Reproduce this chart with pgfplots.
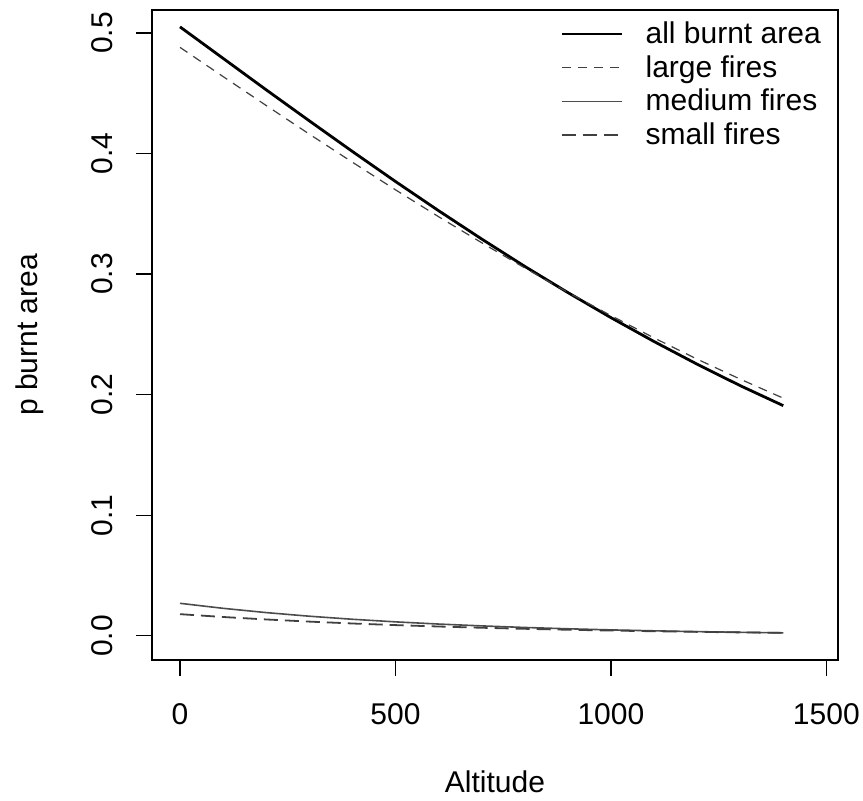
\documentclass[border=0pt]{standalone}
\usepackage{fontspec}
\setmainfont{Liberation Sans}
\usepackage{pgfplots}
\pgfplotsset{compat=1.18}

\begin{document}
\begin{tikzpicture}
\path[use as bounding box] (-76pt,-70.5pt) rectangle (355.5pt,330pt);
\begin{axis}[
  scale only axis,
  width=343pt, height=325pt,
  at={(0,0)}, anchor=south west,
  xmin=-65, xmax=1527,
  ymin=-0.020, ymax=0.519,
  xtick={0,500,1000,1500},
  ytick={0,0.1,0.2,0.3,0.4,0.5},
  tick align=outside,
  xtick pos=left, ytick pos=left,
  major tick length=8pt,
  tick style={black, line width=0.6pt},
  axis line style={line width=0.6pt},
  /pgf/number format/assume math mode=true,
  /pgf/number format/1000 sep={},
  font=\fontsize{15pt}{17pt}\selectfont,
  yticklabel style={/pgf/number format/fixed, /pgf/number format/fixed zerofill, /pgf/number format/precision=1, rotate=90, anchor=south, yshift=8pt},
  xticklabel style={yshift=-10pt},
  scaled y ticks=false,
  xlabel={Altitude},
  ylabel={p burnt area},
  xlabel style={at={(axis description cs:0.5,-0.188)}, anchor=center},
  ylabel style={at={(axis description cs:-0.178,0.5)}, anchor=center},
  legend style={draw=none, fill=none, at={(rel axis cs:0.99,0.995)}, anchor=north east,
    row sep=0.5pt, font=\fontsize{15pt}{17pt}\selectfont,
    /tikz/every odd column/.append style={column sep=9pt}},
  legend cell align=left,
  legend image code/.code={\draw[#1] (0pt,0pt) -- (30pt,0pt);},
]
\addplot[black, line width=1.4pt] coordinates {
(0,0.5050) (100,0.4789) (200,0.4528) (300,0.4271) (400,0.4017) (500,0.3768)
(600,0.3526) (700,0.3291) (800,0.3064) (900,0.2847) (1000,0.2639) (1100,0.2441)
(1200,0.2253) (1300,0.2075) (1400,0.1909)};
\addlegendentry{all burnt area}
\addplot[black!75, line width=0.6pt, dash pattern=on 4.5pt off 3.5pt] coordinates {
(0,0.4880) (100,0.4638) (200,0.4398) (300,0.4161) (400,0.3928) (500,0.3699)
(600,0.3476) (700,0.3260) (800,0.3051) (900,0.2849) (1000,0.2656) (1100,0.2471)
(1200,0.2295) (1300,0.2129) (1400,0.1971)};
\addlegendentry{large fires}
\addplot[black!70, line width=0.8pt] coordinates {
(0,0.0270) (100,0.02284) (200,0.0193) (300,0.0163) (400,0.01377) (500,0.01162)
(600,0.00980) (700,0.00827) (800,0.00697) (900,0.00588) (1000,0.00496) (1100,0.00418)
(1200,0.00352) (1300,0.00297) (1400,0.0025)};
\addlegendentry{medium fires}
\addplot[black!75, line width=0.9pt, dash pattern=on 7pt off 3.5pt] coordinates {
(0,0.0180) (100,0.01565) (200,0.01361) (300,0.01183) (400,0.01027) (500,0.00893)
(600,0.00776) (700,0.00673) (800,0.00585) (900,0.00508) (1000,0.00441) (1100,0.00383)
(1200,0.00332) (1300,0.00288) (1400,0.0025)};
\addlegendentry{small fires}
\end{axis}
\end{tikzpicture}
\end{document}
